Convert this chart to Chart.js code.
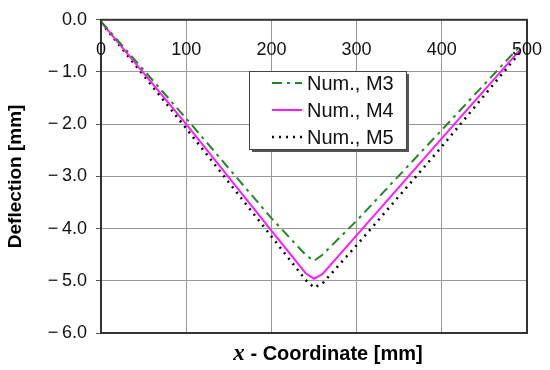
<!DOCTYPE html>
<html>
<head>
<meta charset="utf-8">
<script src="https://cdn.jsdelivr.net/npm/chart.js@4/dist/chart.umd.min.js"></script>
<style>
  html, body { margin: 0; padding: 0; background: #fff; }
  #wrap { width: 550px; height: 370px; position: relative; }
</style>
</head>
<body>
<div id="wrap"><canvas id="deflChart"></canvas></div>
<script>
// x coordinate [mm] where deflections were read
const xCoord = [0, 100, 200, 240, 250, 260, 300, 400, 492];
// deflection [mm] per model
const defM3 = [-0.03, -1.89, -3.80, -4.50, -4.62, -4.50, -3.85, -2.11, -0.50];
const defM4 = [-0.04, -2.00, -4.04, -4.85, -4.96, -4.87, -4.13, -2.27, -0.57];
const defM5 = [-0.05, -2.08, -4.15, -4.98, -5.13, -5.05, -4.32, -2.43, -0.62];
const seriesLabels = ['Num., M3', 'Num., M4', 'Num., M5'];
const xTicks = [0, 100, 200, 300, 400, 500];
const yTicks = [0, -1, -2, -3, -4, -5, -6];

const toPts = ys => xCoord.map((x, i) => ({ x: x, y: ys[i] }));

const FONT = '"Liberation Sans", Arial, sans-serif';

// frame, x tick labels inside the plot, x title and the boxed legend
const decoPlugin = {
    id: 'deco',
    afterDraw(chart) {
        const ctx = chart.ctx;
        const a = chart.chartArea;
        const xs = chart.scales.x;
        ctx.save();

        ctx.strokeStyle = '#333';
        ctx.lineWidth = 2;
        ctx.strokeRect(a.left, a.top, a.right - a.left, a.bottom - a.top);

        ctx.font = '18px ' + FONT;
        ctx.fillStyle = '#111';
        ctx.textAlign = 'center';
        ctx.textBaseline = 'middle';
        xTicks.forEach(v => {
            ctx.fillText(String(v), xs.getPixelForValue(v), a.top + 30);
        });

        // x axis title: italic serif x + bold text
        const partA = 'x';
        const partB = ' - Coordinate [mm]';
        const fA = 'italic bold 23px "Liberation Serif", "Times New Roman", serif';
        const fB = 'bold 20px ' + FONT;
        ctx.font = fA;
        const wA = ctx.measureText(partA).width;
        ctx.font = fB;
        const wB = ctx.measureText(partB).width;
        let tx = 328 - (wA + wB) / 2;
        const ty = 360;
        ctx.textAlign = 'left';
        ctx.textBaseline = 'alphabetic';
        ctx.fillStyle = '#000';
        ctx.font = fA;
        ctx.fillText(partA, tx, ty);
        ctx.font = fB;
        ctx.fillText(partB, tx + wA, ty);

        // legend box with shadow
        const lx = 249, ly = 71, lw = 157, lh = 78;
        ctx.fillStyle = '#555';
        ctx.fillRect(lx + 3, ly + 3, lw, lh);
        ctx.fillStyle = '#fff';
        ctx.fillRect(lx, ly, lw, lh);
        ctx.strokeStyle = '#444';
        ctx.lineWidth = 1;
        ctx.strokeRect(lx + 0.5, ly + 0.5, lw, lh);

        const rows = [83, 110, 137];
        chart.data.datasets.forEach((ds, i) => {
            ctx.strokeStyle = ds.borderColor;
            ctx.lineWidth = ds.borderWidth;
            ctx.setLineDash(ds.borderDash || []);
            ctx.beginPath();
            ctx.moveTo(272, rows[i]);
            ctx.lineTo(302, rows[i]);
            ctx.stroke();
            ctx.setLineDash([]);
            ctx.fillStyle = '#111';
            ctx.font = '20px ' + FONT;
            ctx.textBaseline = 'middle';
            ctx.fillText(ds.label, 307, rows[i] + 1);
        });

        ctx.restore();
    }
};

new Chart(document.getElementById('deflChart'), {
    type: 'scatter',
    data: {
        datasets: [
            {
                label: seriesLabels[0],
                data: toPts(defM3),
                showLine: true,
                borderColor: '#1f8a1f',
                borderWidth: 2,
                borderDash: [10, 5, 3, 5],
                pointRadius: 0,
                fill: false
            },
            {
                label: seriesLabels[1],
                data: toPts(defM4),
                showLine: true,
                borderColor: '#ff1aff',
                borderWidth: 2,
                pointRadius: 0,
                fill: false
            },
            {
                label: seriesLabels[2],
                data: toPts(defM5),
                showLine: true,
                borderColor: '#000',
                borderWidth: 2.5,
                borderDash: [2, 5],
                pointRadius: 0,
                fill: false
            }
        ]
    },
    plugins: [decoPlugin],
    options: {
        responsive: true,
        maintainAspectRatio: false,
        animation: false,
        layout: { padding: { top: 15, right: 23, left: 0, bottom: 0 } },
        plugins: {
            legend: { display: false },
            tooltip: { enabled: false }
        },
        scales: {
            x: {
                type: 'linear',
                min: 0,
                max: 500,
                afterBuildTicks(scale) {
                    scale.ticks = xTicks.map(v => ({ value: v }));
                },
                afterFit(scale) { scale.height = 37; },
                ticks: { display: false },
                grid: { color: '#999', lineWidth: 1, drawTicks: false },
                border: { display: false }
            },
            y: {
                min: -6,
                max: 0,
                afterBuildTicks(scale) {
                    scale.ticks = yTicks.map(v => ({ value: v }));
                },
                afterFit(scale) { scale.width = 101; },
                ticks: {
                    color: '#111',
                    padding: 9,
                    font: { family: FONT, size: 18 },
                    callback: v => (v < 0 ? '\u2212\u2009' + Math.abs(v).toFixed(1) : '0.0')
                },
                grid: { color: '#999', lineWidth: 1, tickLength: 5, tickColor: '#555' },
                border: { display: false },
                title: {
                    display: true,
                    text: 'Deflection [mm]',
                    color: '#000',
                    font: { family: FONT, size: 19, weight: 'bold' },
                    padding: { top: 4, bottom: 0 }
                }
            }
        }
    }
});
</script>
</body>
</html>
